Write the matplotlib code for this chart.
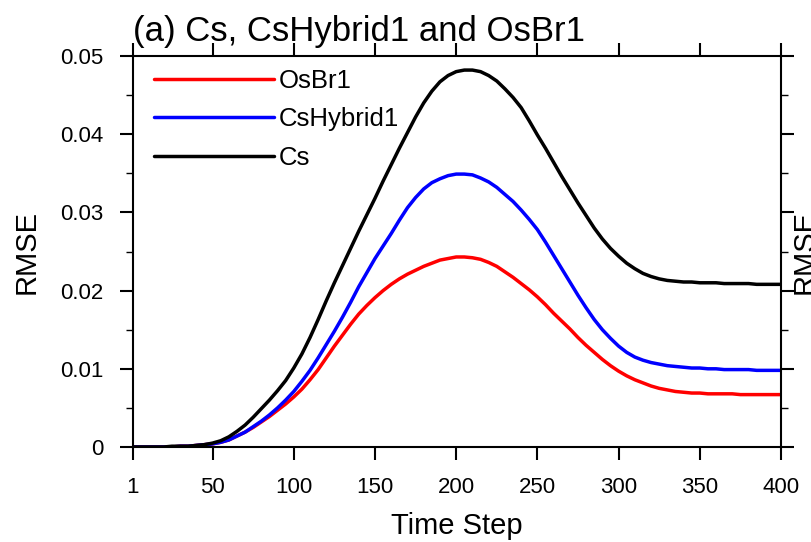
import numpy as np
import matplotlib
matplotlib.use("Agg")
import matplotlib.pyplot as plt
from matplotlib.ticker import MultipleLocator

plt.rcParams['font.family'] = ['Liberation Sans', 'DejaVu Sans']

# time steps where RMSE was sampled: 1, then every 5 steps up to 400
steps = [1] + list(range(5, 401, 5))

rmse_cs = [
    0, 0, 0, 0, 0, 0.0001, 0.0001, 0.0001, 0.0002, 0.0003,
    0.0005, 0.0008, 0.0013, 0.0020, 0.0028, 0.0038, 0.0049, 0.0060, 0.0072, 0.0085,
    0.0101, 0.0119, 0.0140, 0.0163, 0.0187, 0.0210, 0.0232, 0.0254, 0.0276, 0.0297,
    0.0318, 0.0340, 0.0361, 0.0382, 0.0402, 0.0422, 0.0440, 0.0455, 0.0467, 0.0475,
    0.0480, 0.0482, 0.0482, 0.0480, 0.0475, 0.0468, 0.0458, 0.0447, 0.0434, 0.0417,
    0.0399, 0.0382, 0.0364, 0.0346, 0.0329, 0.0312, 0.0296, 0.0280, 0.0266, 0.0254,
    0.0244, 0.0235, 0.0228, 0.0222, 0.0218, 0.0215, 0.0213, 0.0212, 0.0211, 0.0211,
    0.0210, 0.0210, 0.0210, 0.0209, 0.0209, 0.0209, 0.0209, 0.0208, 0.0208, 0.0208,
    0.0208]

rmse_hybrid1 = [
    0, 0, 0, 0, 0, 0, 0.0001, 0.0001, 0.0002, 0.0003,
    0.0004, 0.0006, 0.0009, 0.0014, 0.0019, 0.0026, 0.0033, 0.0041, 0.0050, 0.0060,
    0.0071, 0.0084, 0.0098, 0.0114, 0.0131, 0.0148, 0.0166, 0.0185, 0.0205, 0.0223,
    0.0241, 0.0257, 0.0273, 0.0290, 0.0306, 0.0319, 0.0330, 0.0338, 0.0343, 0.0347,
    0.0349, 0.0349, 0.0348, 0.0344, 0.0339, 0.0332, 0.0323, 0.0314, 0.0303, 0.0291,
    0.0278, 0.0262, 0.0245, 0.0228, 0.0211, 0.0194, 0.0178, 0.0163, 0.0150, 0.0139,
    0.0129, 0.0121, 0.0115, 0.0111, 0.0108, 0.0106, 0.0104, 0.0103, 0.0102, 0.0101,
    0.0101, 0.0100, 0.0100, 0.0099, 0.0099, 0.0099, 0.0099, 0.0098, 0.0098, 0.0098,
    0.0098]

rmse_osbr1 = [
    0, 0, 0, 0, 0, 0, 0.0001, 0.0001, 0.0002, 0.0003,
    0.0004, 0.0006, 0.0009, 0.0014, 0.0019, 0.0025, 0.0032, 0.0039, 0.0047, 0.0055,
    0.0064, 0.0074, 0.0086, 0.0099, 0.0114, 0.0129, 0.0143, 0.0157, 0.0170, 0.0181,
    0.0191, 0.0200, 0.0208, 0.0215, 0.0221, 0.0226, 0.0231, 0.0235, 0.0239, 0.0241,
    0.0243, 0.0243, 0.0242, 0.0240, 0.0236, 0.0231, 0.0224, 0.0217, 0.0209, 0.0201,
    0.0192, 0.0182, 0.0171, 0.0161, 0.0151, 0.0140, 0.0130, 0.0121, 0.0112, 0.0104,
    0.0097, 0.0091, 0.0086, 0.0082, 0.0078, 0.0075, 0.0073, 0.0071, 0.0070, 0.0069,
    0.0069, 0.0068, 0.0068, 0.0068, 0.0068, 0.0067, 0.0067, 0.0067, 0.0067, 0.0067,
    0.0067]

xticks = [1, 50, 100, 150, 200, 250, 300, 350, 400]
yticks = [0, 0.01, 0.02, 0.03, 0.04, 0.05]
ytick_labels = ['0', '0.01', '0.02', '0.03', '0.04', '0.05']

fig = plt.figure(figsize=(8.11, 5.42), dpi=100)
ax = fig.add_axes([133/811, 95/542, 648/811, 391/542])

line_kw = dict(lw=2.5, solid_joinstyle='round', solid_capstyle='round')
ax.plot(steps, rmse_osbr1, color='red', label='OsBr1', **line_kw)
ax.plot(steps, rmse_hybrid1, color='blue', label='CsHybrid1', **line_kw)
ax.plot(steps, rmse_cs, color='black', label='Cs', **line_kw)

ax.set_xlim(1, 400)
ax.set_ylim(0, 0.05)
ax.set_xticks(xticks)
ax.set_xticklabels([str(t) for t in xticks])
ax.set_yticks(yticks)
ax.set_yticklabels(ytick_labels)
ax.yaxis.set_minor_locator(MultipleLocator(0.005))

for s in ax.spines.values():
    s.set_linewidth(1.5)
ax.tick_params(which='major', direction='out', length=9.5, width=1.5,
               labelsize=16, top=True, right=True)
ax.tick_params(which='minor', direction='out', length=5, width=1.0,
               right=True)
ax.tick_params(axis='x', pad=12)
ax.tick_params(axis='y', pad=12)

ax.set_xlabel('Time Step', fontsize=21, labelpad=10)
ax.set_ylabel('RMSE', fontsize=21, labelpad=14)

fig.text(133/811, 1 - 41/542, '(a) Cs, CsHybrid1 and OsBr1', fontsize=25,
         ha='left', va='baseline')
# y label of the next panel, cut by the right edge
fig.text(791/811, (95 + 391/2)/542, 'RMSE', fontsize=21, rotation=90,
         ha='left', va='center')

ax.legend(loc='upper left', bbox_to_anchor=(0.013, 1.0), frameon=False,
          fontsize=18.5, handlelength=4.65, handletextpad=0.2,
          labelspacing=0.56, borderaxespad=0.1)

fig.savefig('out.png', dpi=100)
